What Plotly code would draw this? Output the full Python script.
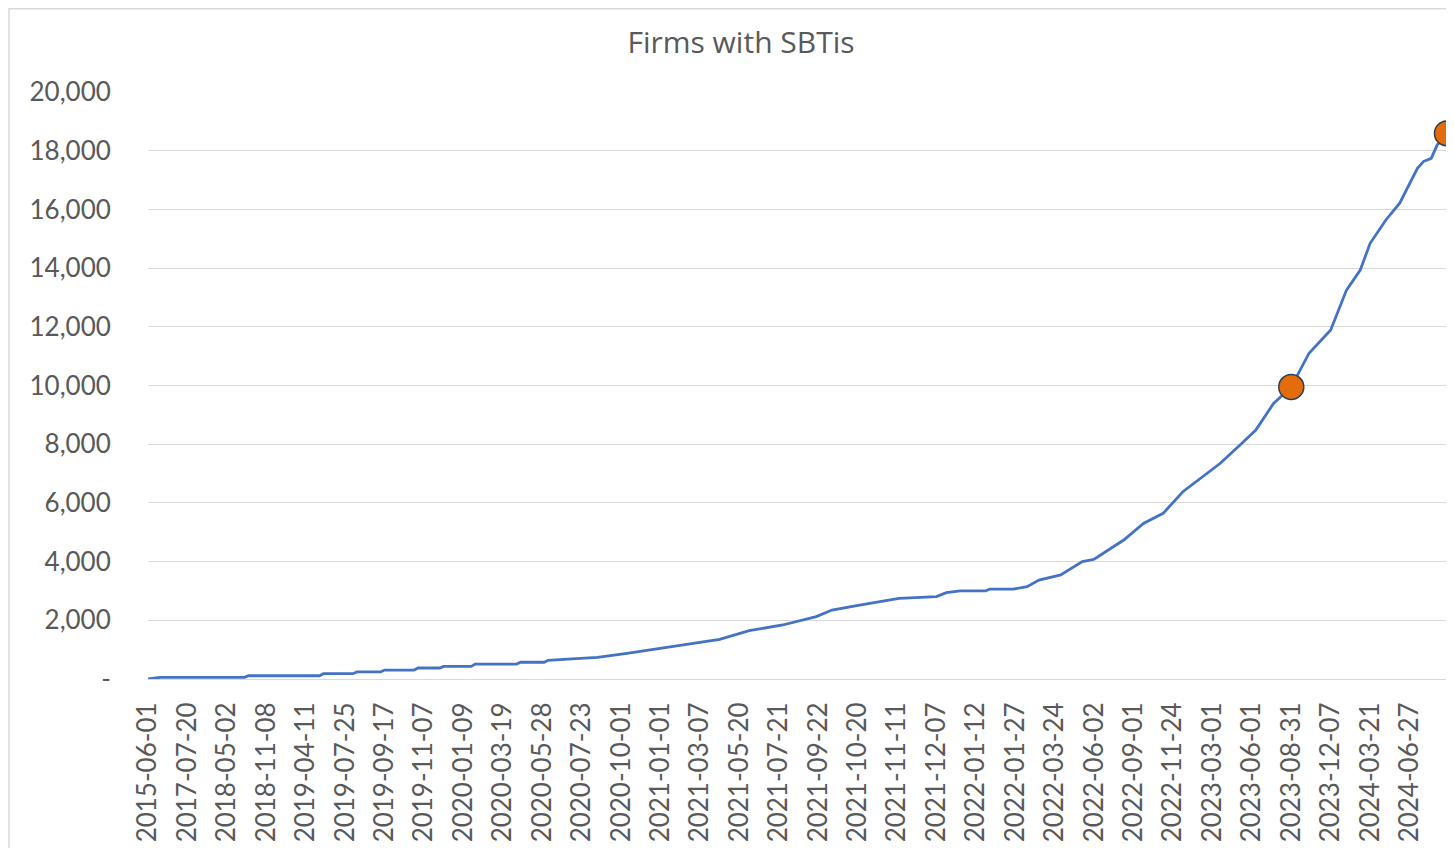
import plotly.graph_objects as go

# Observation number (row in the source table) and cumulative firms with SBTis
obs = [0, 6, 49, 51, 87, 89, 104, 106, 118, 120, 135, 137, 148, 150, 164, 166,
       187, 189, 201, 203, 213, 228, 243, 260, 275, 290, 305, 322, 339, 347,
       361, 373, 381, 400, 405, 412, 425, 427, 439, 446, 452, 463, 474, 480,
       491, 495, 505, 515, 525, 537, 544, 554, 562, 571, 580, 589, 600, 608,
       615, 620, 628, 635, 644, 647, 651, 654, 659]
firms = [0, 55, 55, 110, 110, 180, 180, 240, 240, 305, 305, 375, 375, 430, 430, 510,
         510, 570, 570, 635, 680, 740, 875, 1045, 1215, 1350, 1645, 1840, 2125, 2350,
         2520, 2670, 2750, 2805, 2940, 3000, 3000, 3065, 3065, 3145, 3370, 3545, 4000, 4080,
         4565, 4735, 5300, 5645, 6380, 7010, 7350, 7970, 8480, 9390, 9950, 11100, 11890, 13250,
         13935, 14845, 15640, 16210, 17400, 17630, 17740, 18190, 18590]

tick_labels = ["2015-06-01", "2017-07-20", "2018-05-02", "2018-11-08", "2019-04-11",
               "2019-07-25", "2019-09-17", "2019-11-07", "2020-01-09", "2020-03-19",
               "2020-05-28", "2020-07-23", "2020-10-01", "2021-01-01", "2021-03-07",
               "2021-05-20", "2021-07-21", "2021-09-22", "2021-10-20", "2021-11-11",
               "2021-12-07", "2022-01-12", "2022-01-27", "2022-03-24", "2022-06-02",
               "2022-09-01", "2022-11-24", "2023-03-01", "2023-06-01", "2023-08-31",
               "2023-12-07", "2024-03-21", "2024-06-27"]
label_every = 20

highlight_obs = [580, 659]

y_ticks = [0, 2000, 4000, 6000, 8000, 10000, 12000, 14000, 16000, 18000, 20000]
y_tick_text = ["-"] + [f"{v:,}" for v in y_ticks[1:]]

tick_positions = [i * label_every for i in range(len(tick_labels))]
highlight_vals = [firms[obs.index(o)] for o in highlight_obs]

FONT = "Lato, 'Open Sans', sans-serif"
TITLE_FONT = "'Open Sans', Lato, sans-serif"
TXT = "#595959"

W, H = 1446, 840
L, R, T, B = 140, 7, 84, 169
PW, PH = W - L - R, H - T - B

fig = go.Figure()
fig.add_trace(go.Scatter(
    x=obs, y=firms, mode="lines",
    line=dict(color="#4472C4", width=2.8),
    showlegend=False, hoverinfo="x+y",
))
fig.add_trace(go.Scatter(
    x=highlight_obs, y=highlight_vals, mode="markers",
    marker=dict(size=25, color="#E46C0A", line=dict(color="#2E3F50", width=1.5)),
    showlegend=False, cliponaxis=False,
))

fig.update_layout(
    width=W, height=H,
    margin=dict(l=L, r=R, t=T, b=B),
    paper_bgcolor="white", plot_bgcolor="white",
    font=dict(family=FONT, color=TXT, size=26),
    title=dict(text="Firms with SBTis", x=(741 - 8) / W, xanchor="center",
               y=1 - 34 / H, yanchor="middle",
               font=dict(family=TITLE_FONT, size=30, color=TXT)),
    xaxis=dict(
        range=[0, 659], tickmode="array", tickvals=tick_positions, ticktext=tick_labels,
        tickangle=-90, showgrid=False, zeroline=False,
        showline=True, linecolor="#D9D9D9", linewidth=1,
        ticks="outside", ticklen=12, tickcolor="rgba(0,0,0,0)",
        tickfont=dict(family=FONT, size=26, color=TXT),
    ),
    yaxis=dict(
        range=[0, 20000], tickmode="array", tickvals=y_ticks, ticktext=y_tick_text,
        showgrid=True, gridcolor="#D9D9D9", gridwidth=1, zeroline=False,
        showline=False,
        ticks="outside", ticklen=31, tickcolor="rgba(0,0,0,0)",
        tickfont=dict(family=FONT, size=26, color=TXT),
    ),
    shapes=[dict(type="rect", xref="paper", yref="paper",
                 x0=(1 - L) / PW, x1=(W + 20 - L) / PW,
                 y0=-(B + 20) / PH, y1=(PH + T - 0.75) / PH,
                 line=dict(color="#D9D9D9", width=1.5), fillcolor="rgba(0,0,0,0)",
                 layer="below")],
)

fig.write_html("out.html")
